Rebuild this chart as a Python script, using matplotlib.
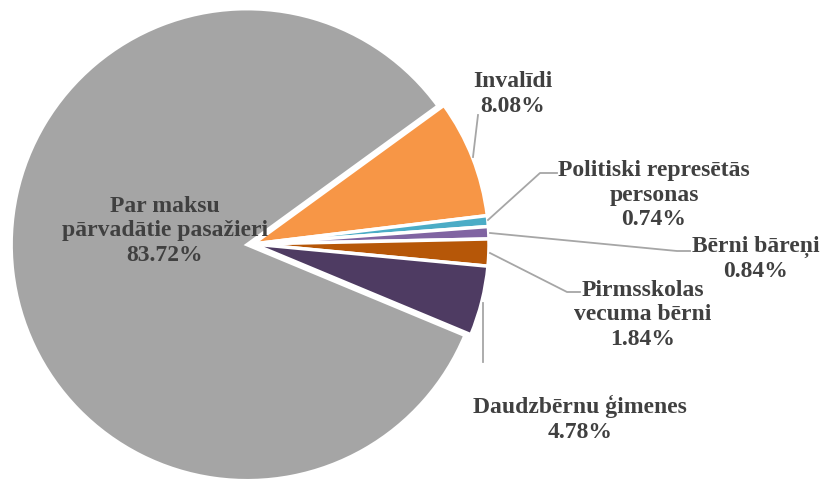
import matplotlib.pyplot as plt

labels = ['Invalīdi', 'Politiski represētās\npersonas', 'Bērni bāreņi',
          'Pirmsskolas\nvecuma bērni', 'Daudzbērnu ģimenes',
          'Par maksu\npārvadātie pasažieri']
shares = [8.08, 0.74, 0.84, 1.84, 4.78, 83.72]
colors = ['#F79646', '#4BACC6', '#8064A2', '#B65708', '#4E3B62', '#A5A5A5']
explode = [0, 0, 0, 0, 0, 0.025]

# label centres and leader lines in pixel positions
label_pos = [(513, 94), (654, 195), (756, 259), (643, 315), (580, 419), (165, 231)]
leaders = [
    [(473, 157), (478, 115)],
    [(488, 220), (540, 173), (557, 173)],
    [(490, 233), (677, 251), (690, 251)],
    [(490, 253), (567, 292), (580, 292)],
    [(483, 303), (483, 362)],
    None,
]

W, H = 824, 479
cx, cy, R = 253, 244, 236


def px(x, y):
    return (x - cx) / R, (cy - y) / R


fig = plt.figure(figsize=(W / 100, H / 100), dpi=100)
ax = fig.add_axes([0, 0, 1, 1])

ax.pie(shares, colors=colors, explode=explode, startangle=36, counterclock=False,
       wedgeprops=dict(edgecolor='white', linewidth=2.5))

for lab, val, pos, line in zip(labels, shares, label_pos, leaders):
    x, y = px(*pos)
    ax.text(x, y, f'{lab}\n{val:.2f}%', ha='center', va='center',
            fontsize=17, fontweight='bold', family='Liberation Serif',
            color='#404040', linespacing=1.2)
    if line:
        xs, ys = zip(*[px(*p) for p in line])
        ax.plot(xs, ys, color='#A6A6A6', lw=1.3)

ax.set_xlim(-cx / R, (W - cx) / R)
ax.set_ylim(-(H - cy) / R, cy / R)
ax.set_aspect('equal')
ax.axis('off')

fig.savefig('out.png', dpi=100)
